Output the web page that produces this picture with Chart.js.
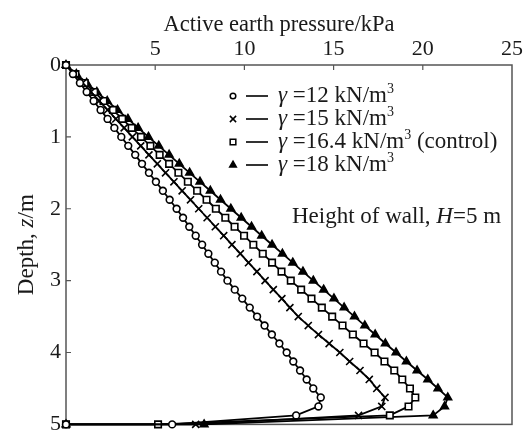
<!DOCTYPE html>
<html><head><meta charset="utf-8">
<script src="https://cdn.jsdelivr.net/npm/chart.js@4.4.1/dist/chart.umd.min.js"></script>
<style>html,body{margin:0;padding:0;background:#fff;}</style>
</head><body>
<canvas id="c" width="531" height="431"></canvas>
<script>
// Depth z (m) of each computed point
const depth = [0,0.125,0.25,0.375,0.5,0.625,0.75,0.875,1,1.125,1.25,1.375,1.5,1.625,1.75,1.875,2,2.125,2.25,2.375,2.5,2.625,2.75,2.875,3,3.125,3.25,3.375,3.5,3.625,3.75,3.875,4,4.125,4.25,4.375,4.5,4.625,4.75,4.875,5,5];
// Active earth pressure (kPa)
const p12  = [0,0.39,0.78,1.16,1.55,1.94,2.33,2.71,3.10,3.49,3.88,4.26,4.65,5.04,5.43,5.81,6.20,6.56,6.91,7.27,7.63,7.98,8.34,8.69,9.05,9.46,9.88,10.30,10.71,11.13,11.54,11.96,12.37,12.74,13.12,13.49,13.86,14.28,14.15,12.90,5.95,0];
const p15  = [0,0.47,0.93,1.40,1.86,2.33,2.79,3.26,3.72,4.19,4.65,5.12,5.58,6.05,6.51,6.98,7.44,7.91,8.37,8.84,9.30,9.77,10.23,10.70,11.16,11.62,12.10,12.55,13.02,13.58,14.15,14.75,15.35,15.90,16.48,17.00,17.42,17.88,17.70,16.40,7.27,0];
const p164 = [0,0.53,1.05,1.58,2.10,2.63,3.15,3.68,4.20,4.73,5.25,5.78,6.30,6.83,7.35,7.88,8.40,8.93,9.45,9.98,10.50,11.03,11.55,12.08,12.60,13.18,13.76,14.34,14.92,15.50,16.08,16.68,17.30,17.85,18.40,18.85,19.28,19.58,19.20,18.15,5.16,0];
const p18  = [0,0.58,1.16,1.73,2.31,2.89,3.47,4.04,4.62,5.20,5.78,6.35,6.93,7.51,8.09,8.66,9.24,9.82,10.40,10.97,11.55,12.13,12.71,13.28,13.86,14.44,15.02,15.59,16.17,16.75,17.33,17.90,18.50,19.08,19.68,20.28,20.85,21.40,21.22,20.58,7.74,0];
const gammaLabels = ['12','15','16.4','18'];
const labelSuffix = ['','',' (control)',''];
const xTicks = [0,5,10,15,20,25];
const yTicks = [0,1,2,3,4,5];
const xTitle = 'Active earth pressure/kPa';

const FONT = "'Liberation Serif', 'Times New Roman', serif";
const TXT = 22.5;
const styles = ['circle','crossRot','rect','triangle'];
const fills = ['#fff','#000','#fff','#000'];
const radii = [3.4,5,4.6,4.4];
const series = [p12,p15,p164,p18];

const datasets = series.map((s,i)=>({
  label: 'γ =' + gammaLabels[i] + ' kN/m³' + labelSuffix[i],
  data: s.map((v,k)=>({x:v,y:depth[k]})),
  showLine: true,
  borderColor:'#000', borderWidth:1.8,
  pointStyle: styles[i], pointRadius: radii[i],
  pointBackgroundColor: fills[i], pointBorderColor:'#000', pointBorderWidth:1.6,
  clip:false, tension:0
}));

function drawMarker(ctx, style, x, y, r, fill){
  ctx.save();
  ctx.lineWidth=1.5; ctx.strokeStyle='#000'; ctx.fillStyle=fill;
  ctx.beginPath();
  if(style==='circle'){ctx.arc(x,y,r,0,Math.PI*2);ctx.fill();ctx.stroke();}
  else if(style==='crossRot'){const d=r*0.707;ctx.moveTo(x-d,y-d);ctx.lineTo(x+d,y+d);ctx.moveTo(x+d,y-d);ctx.lineTo(x-d,y+d);ctx.stroke();}
  else if(style==='rect'){const s=r*0.707;ctx.rect(x-s,y-s,2*s,2*s);ctx.fill();ctx.stroke();}
  else {ctx.moveTo(x,y-r);ctx.lineTo(x+r*0.866,y+r*0.5);ctx.lineTo(x-r*0.866,y+r*0.5);ctx.closePath();ctx.fill();ctx.stroke();}
  ctx.restore();
}

function drawMixed(ctx, parts, x, y, base){
  let cx=x;
  parts.forEach(p=>{
    const size = Math.round(base*(p[2]||1));
    ctx.font = (p[1]?'italic ':'') + size + 'px ' + FONT;
    ctx.fillText(p[0], cx, y + (p[3]||0));
    cx += ctx.measureText(p[0]).width;
  });
  return cx-x;
}
function widthMixed(ctx, parts, base){
  let w=0; parts.forEach(p=>{ctx.font=(p[1]?'italic ':'')+Math.round(base*(p[2]||1))+'px '+FONT; w+=ctx.measureText(p[0]).width;}); return w;
}

const overlay = {
  id:'overlay',
  beforeDatasetsDraw(chart){
    const {ctx, chartArea:a, scales:{x,y}} = chart;
    ctx.save();
    ctx.strokeStyle='#555'; ctx.lineWidth=1.5;
    ctx.strokeRect(a.left,a.top,a.right-a.left,a.bottom-a.top);
    ctx.lineWidth=1.2;
    ctx.beginPath();
    xTicks.forEach(v=>{ if(v>0&&v<25){const px=x.getPixelForValue(v);ctx.moveTo(px,a.top);ctx.lineTo(px,a.top+5);} });
    yTicks.forEach(v=>{ if(v>0&&v<5){const py=y.getPixelForValue(v);ctx.moveTo(a.left,py);ctx.lineTo(a.left+5,py);} });
    ctx.stroke();
    ctx.restore();
  },
  afterDraw(chart){
    const {ctx, chartArea:a} = chart;
    ctx.save();
    ctx.fillStyle='#1a1a1a';
    ctx.textBaseline='middle';
    // x title
    ctx.textAlign='center';
    ctx.font = TXT+'px '+FONT;
    ctx.fillText(xTitle, 279, 25);
    ctx.textAlign='left';
    // legend
    const rows=[96,119,142,165];
    rows.forEach((ry,i)=>{
      drawMarker(ctx, styles[i], 233, ry, radii[i]-0.6, fills[i]);
      ctx.save();ctx.strokeStyle='#000';ctx.lineWidth=1.6;ctx.beginPath();ctx.moveTo(246,ry);ctx.lineTo(268,ry);ctx.stroke();ctx.restore();
      const parts=[['γ',true],[' =' + gammaLabels[i] + ' kN/m',false],['3',false,0.62,-7]];
      if(labelSuffix[i]) parts.push([labelSuffix[i],false]);
      drawMixed(ctx, parts, 278, ry, TXT);
    });
    // annotation
    drawMixed(ctx, [['Height of wall, ',false],['H',true],['=5 m',false]], 292, 217, TXT);
    // y title
    ctx.save();
    ctx.translate(27,(a.top+a.bottom)/2);
    ctx.rotate(-Math.PI/2);
    const parts=[['Depth, ',false],['z',true],['/m',false]];
    const w=widthMixed(ctx, parts, TXT);
    drawMixed(ctx, parts, -w/2, 0, TXT);
    ctx.restore();
    ctx.restore();
  }
};

new Chart(document.getElementById('c'), {
  type:'scatter',
  data:{datasets},
  options:{
    responsive:false, animation:false, devicePixelRatio:1,
    layout:{padding:{left:0,right:19,top:0,bottom:5}},
    plugins:{legend:{display:false}, tooltip:{enabled:false}},
    scales:{
      x:{type:'linear', position:'top', min:0, max:25,
        afterFit(s){s.height=65; s.paddingLeft=0; s.paddingRight=0;},
        afterBuildTicks(s){s.ticks=xTicks.map(v=>({value:v}));},
        ticks:{padding:3, color:'#1a1a1a', font:{family:FONT,size:22}, maxRotation:0, callback:v=>v===0?'':String(v)},
        grid:{display:false, drawTicks:false}, border:{display:false},
        title:{display:false, text:xTitle}
      },
      y:{type:'linear', reverse:true, min:0, max:5,
        afterFit(s){s.width=66; s.paddingTop=0; s.paddingBottom=0;},
        afterBuildTicks(s){s.ticks=yTicks.map(v=>({value:v}));},
        ticks:{padding:5, color:'#1a1a1a', font:{family:FONT,size:22}, callback:v=>String(v)},
        grid:{display:false, drawTicks:false}, border:{display:false},
        title:{display:false, text:'Depth, z/m'}
      }
    }
  },
  plugins:[overlay]
});
</script>
</body></html>
